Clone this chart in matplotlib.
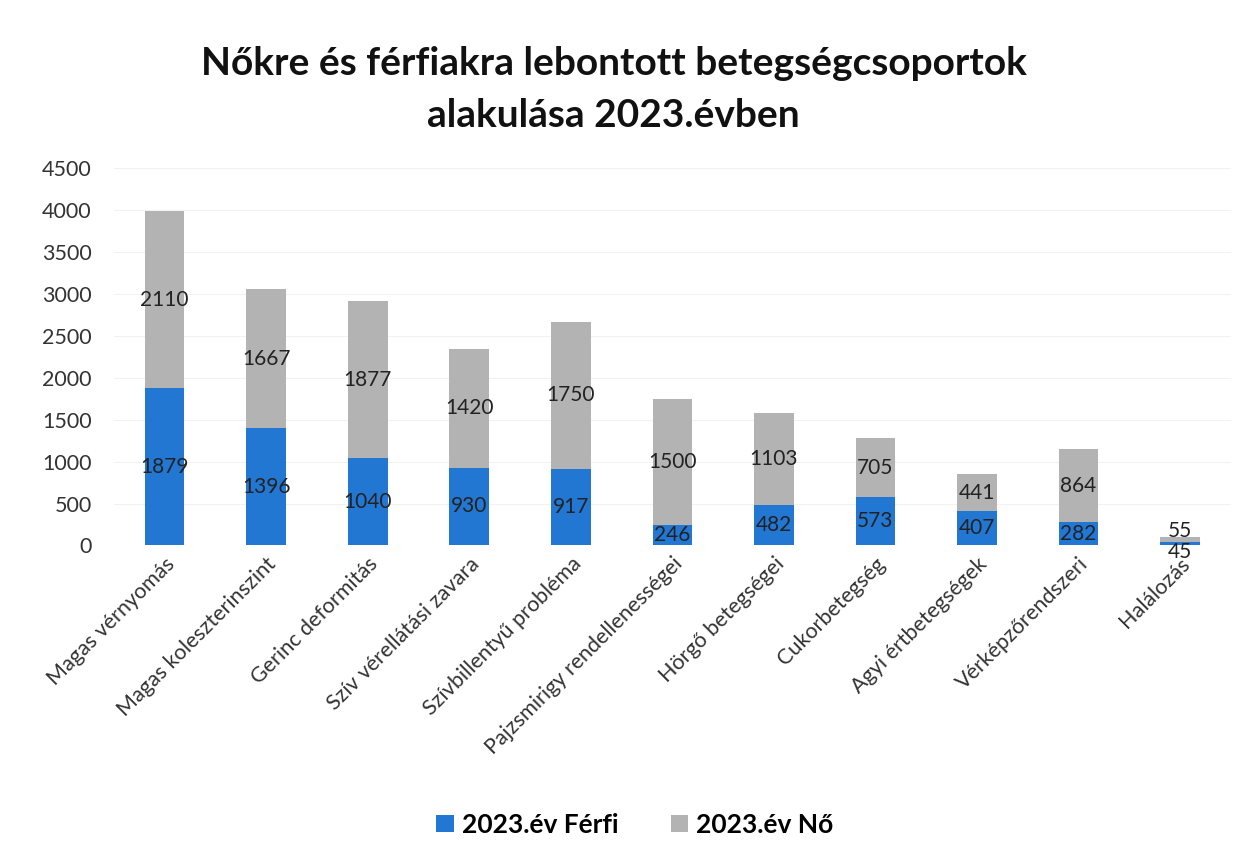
import matplotlib.pyplot as plt
import numpy as np

categories = ['Magas vérnyomás', 'Magas koleszterinszint', 'Gerinc deformitás',
              'Szív vérellátási zavara', 'Szívbillentyű probléma',
              'Pajzsmirigy rendellenességei', 'Hörgő betegségei', 'Cukorbetegség',
              'Agyi értbetegségek', 'Vérképzőrendszeri', 'Halálozás']
ferfi = [1879, 1396, 1040, 930, 917, 246, 482, 573, 407, 282, 45]
no = [2110, 1667, 1877, 1420, 1750, 1500, 1103, 705, 441, 864, 55]

plt.rcParams['font.family'] = ['Lato', 'DejaVu Sans']

fig = plt.figure(figsize=(12.52, 8.59), dpi=100)
ax = fig.add_axes([0.091, 0.365, 0.892, 0.439])

x = np.arange(len(categories))
b1 = ax.bar(x, ferfi, width=0.39, color='#2277d3', label='2023.év Férfi', zorder=2)
b2 = ax.bar(x, no, width=0.39, bottom=ferfi, color='#b3b3b3', label='2023.év Nő', zorder=2)

for i in range(len(categories)):
    # tiny segments (Halálozás): push the two labels apart a little
    dy = 6 if ferfi[i] + no[i] < 300 else 0
    ax.annotate(str(ferfi[i]), (x[i], ferfi[i] / 2), xytext=(0, -dy),
                textcoords='offset points', ha='center', va='center',
                fontsize=15, color='#222222', zorder=3)
    ax.annotate(str(no[i]), (x[i], ferfi[i] + no[i] / 2), xytext=(0, dy),
                textcoords='offset points', ha='center', va='center',
                fontsize=15, color='#222222', zorder=3)

ax.set_xlim(-0.5, len(categories) - 0.5)
ax.set_ylim(0, 4500)
ax.set_yticks(range(0, 4501, 500))
ax.yaxis.grid(True, color='#f2f2f2', linewidth=0.8, zorder=0)
for s in ax.spines.values():
    s.set_visible(False)
ax.tick_params(axis='both', length=0, colors='#333333')
ax.tick_params(axis='y', pad=16, labelsize=15.5)
ax.set_xticks(x)
ax.set_xticklabels(categories, rotation=45, ha='right', rotation_mode='anchor')
ax.tick_params(axis='x', pad=6, labelsize=15.5)

fig.text(0.49, 0.926, 'Nőkre és férfiakra lebontott betegségcsoportok',
         ha='center', va='center', fontsize=28, fontweight='bold', color='#111111')
fig.text(0.49, 0.866, 'alakulása 2023.évben',
         ha='center', va='center', fontsize=28, fontweight='bold', color='#111111')

leg = fig.legend(handles=[b1, b2], loc='center', bbox_to_anchor=(0.507, 0.04), ncol=2,
                 frameon=False, fontsize=19, handlelength=0.65, handleheight=0.65,
                 columnspacing=2.0, handletextpad=0.3)
for t in leg.get_texts():
    t.set_fontweight('bold')

plt.savefig('out.png', dpi=100)
